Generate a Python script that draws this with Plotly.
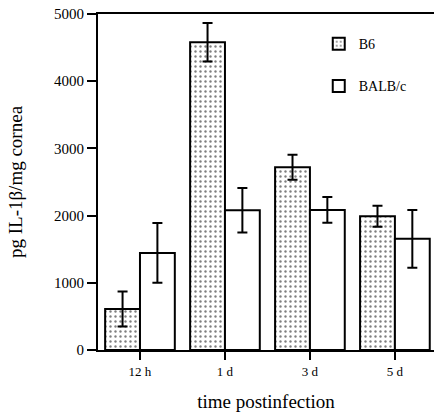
import plotly.graph_objects as go

categories = ["12 h", "1 d", "3 d", "5 d"]
b6_values = [610, 4580, 2720, 1990]
b6_err = [260, 285, 185, 155]
balb_values = [1445, 2080, 2085, 1655]
balb_err = [445, 330, 190, 430]
y_ticks = [0, 1000, 2000, 3000, 4000, 5000]

font_family = "Liberation Serif"

fig = go.Figure()
fig.add_trace(go.Bar(
    name="B6", x=categories, y=b6_values, legendgroup="a",
    marker=dict(color="white", line=dict(color="black", width=2),
                pattern=dict(shape=".", fgcolor="black", bgcolor="white", size=5, solidity=0.18)),
    error_y=dict(type="data", array=b6_err, visible=True, color="black", thickness=2, width=5),
))
fig.add_trace(go.Bar(
    name="BALB/c", x=categories, y=balb_values, legendgroup="b",
    marker=dict(color="white", line=dict(color="black", width=2)),
    error_y=dict(type="data", array=balb_err, visible=True, color="black", thickness=2, width=5),
))

fig.update_layout(
    width=434, height=413,
    margin=dict(l=98, r=0, t=14, b=63, autoexpand=False),
    paper_bgcolor="white", plot_bgcolor="white",
    barmode="group", bargap=0.18, bargroupgap=0,
    font=dict(family=font_family, color="black"),
    legend=dict(x=0.657, y=0.958, xanchor="left", yanchor="top", bgcolor="rgba(0,0,0,0)",
                font=dict(family=font_family, size=14, color="black"),
                traceorder="grouped", tracegroupgap=21, itemwidth=30),
    xaxis=dict(
        range=[-0.494, 3.46], showline=True, linecolor="black", linewidth=2, mirror=True,
        ticks="outside", ticklen=8, tickwidth=2, tickcolor="black", automargin=False,
        tickfont=dict(size=13, family=font_family, color="black"),
        title=dict(text="time postinfection", font=dict(size=19, family=font_family, color="black"), standoff=17),
        showgrid=False, zeroline=False,
    ),
    yaxis=dict(
        range=[0, 5000], tickvals=y_ticks, showline=True, linecolor="black", linewidth=2,
        ticks="outside", ticklen=9, tickwidth=2, tickcolor="black", automargin=False,
        tickfont=dict(size=15, family=font_family, color="black"),
        title=dict(text="pg IL-1β/mg cornea", font=dict(size=19, family=font_family, color="black"), standoff=26),
        showgrid=False, zeroline=False,
    ),
)

fig.write_html("out.html", config={"displayModeBar": False},
               post_script="document.body.style.margin='0';")
